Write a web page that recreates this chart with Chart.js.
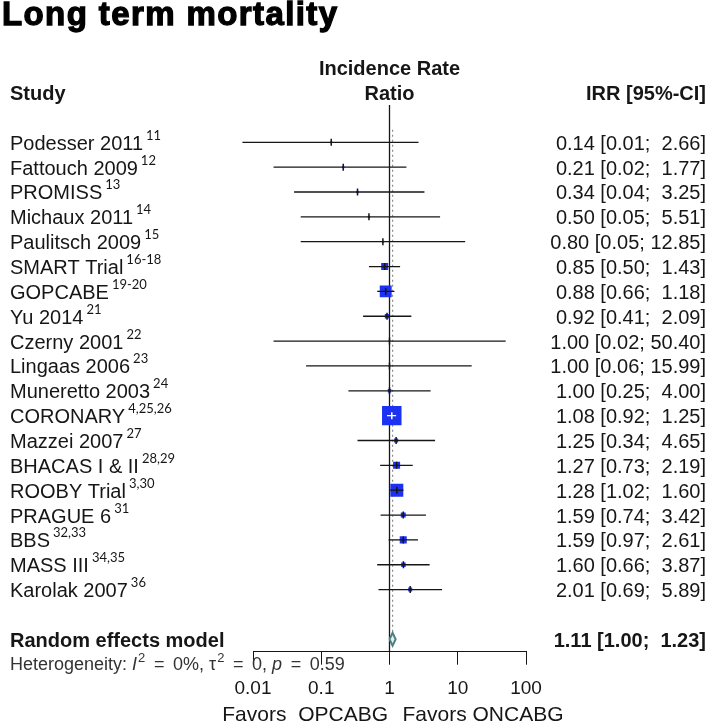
<!DOCTYPE html>
<html>
<head>
<meta charset="utf-8">
<script src="https://cdn.jsdelivr.net/npm/chart.js@4.4.1/dist/chart.umd.min.js"></script>
<style>
  html, body { margin: 0; padding: 0; background: #fff; }
  #chart-canvas { display: block; }
</style>
</head>
<body>
<canvas id="chart-canvas" width="709" height="722"></canvas>
<script>
// Study data, top to bottom as listed in the plot.
var studies = ['Podesser 2011', 'Fattouch 2009', 'PROMISS', 'Michaux 2011', 'Paulitsch 2009',
  'SMART Trial', 'GOPCABE', 'Yu 2014', 'Czerny 2001', 'Lingaas 2006', 'Muneretto 2003',
  'CORONARY', 'Mazzei 2007', 'BHACAS I & II', 'ROOBY Trial', 'PRAGUE 6', 'BBS', 'MASS III',
  'Karolak 2007'];
var refs = ['11', '12', '13', '14', '15', '16-18', '19-20', '21', '22', '23', '24',
  '4,25,26', '27', '28,29', '3,30', '31', '32,33', '34,35', '36'];
var irr = [0.14, 0.21, 0.34, 0.50, 0.80, 0.85, 0.88, 0.92, 1.00, 1.00, 1.00,
  1.08, 1.25, 1.27, 1.28, 1.59, 1.59, 1.60, 2.01];
// Podesser's lower bound prints as 0.01 but its line reaches past the axis start.
var lower = [0.007, 0.02, 0.04, 0.05, 0.05, 0.50, 0.66, 0.41, 0.02, 0.06, 0.25,
  0.92, 0.34, 0.73, 1.02, 0.74, 0.97, 0.66, 0.69];
var upper = [2.66, 1.77, 3.25, 5.51, 12.85, 1.43, 1.18, 2.09, 50.40, 15.99, 4.00,
  1.25, 4.65, 2.19, 1.60, 3.42, 2.61, 3.87, 5.89];
// Estimated study weights (%), read from the square sizes.
var weights = [0.4, 0.6, 0.6, 0.6, 0.4, 5.2, 15, 2.1, 0.25, 0.25, 1.3,
  40, 1.7, 5.2, 17.8, 2.6, 5.2, 2.1, 1.7];

// Random effects model: estimate, lower, upper.
var pooled = [1.11, 1.00, 1.23];
var heterogeneity = ['0%', '0', '0.59'];

var tickValues = [0.01, 0.1, 1, 10, 100];
var tickLabels = ['0.01', '0.1', '1', '10', '100'];
var leftLabel = 'Favors  OPCABG';
var rightLabel = 'Favors ONCABG';

var BLUE = '#1c32f2';
var INK = '#161616';
var FONT = '"Liberation Sans", Arial, sans-serif';

function boxSide(i) {
  return 3.08 * Math.sqrt(weights[i]);
}

// The CI line is drawn white when it fits inside its square.
function ciInsideBox(chart, i) {
  var xs = chart.scales.x;
  var c = xs.getPixelForValue(irr[i]);
  var half = boxSide(i) / 2;
  return xs.getPixelForValue(lower[i]) > c - half && xs.getPixelForValue(upper[i]) < c + half;
}

function ciText(est, lo, hi) {
  var h = hi.toFixed(2);
  return est.toFixed(2) + ' [' + lo.toFixed(2) + ';' + (h.length < 5 ? '  ' : ' ') + h + ']';
}

var datasets = [];

// Line of no effect.
datasets.push({
  type: 'line',
  data: [{x: 1, y: -1.5}, {x: 1, y: 20.5}],
  borderColor: INK, borderWidth: 1.3, pointRadius: 0, order: 10
});

// Dotted line at the pooled estimate.
datasets.push({
  type: 'line',
  data: [{x: pooled[0], y: -0.5}, {x: pooled[0], y: 19.7}],
  borderColor: '#8c8c8c', borderWidth: 1.2, borderDash: [2, 3], pointRadius: 0, order: 9
});

// Weighted squares.
datasets.push({
  type: 'scatter',
  data: irr.map(function (v, i) { return {x: v, y: i}; }),
  pointStyle: 'rect',
  pointRadius: irr.map(function (v, i) { return boxSide(i) / Math.SQRT2; }),
  pointBackgroundColor: BLUE, pointBorderColor: BLUE, pointBorderWidth: 0,
  order: 5
});

// Confidence intervals.
studies.forEach(function (name, i) {
  datasets.push({
    type: 'line',
    data: [{x: lower[i], y: i}, {x: upper[i], y: i}],
    borderColor: function (ctx) { return ciInsideBox(ctx.chart, i) ? '#ffffff' : INK; },
    borderWidth: 1.3, pointRadius: 0, order: 3, clip: false
  });
});

// Small vertical tick at each estimate.
datasets.push({
  type: 'scatter',
  data: irr.map(function (v, i) { return {x: v, y: i}; }),
  pointStyle: 'line', pointRotation: 90, pointRadius: 3.5, pointBorderWidth: 1.5,
  pointBorderColor: function (ctx) { return ciInsideBox(ctx.chart, ctx.dataIndex) ? '#ffffff' : INK; },
  order: 2
});

// Diamond for the random effects model.
datasets.push({
  type: 'line',
  data: [
    {x: pooled[1], y: 20}, {x: pooled[0], y: 19.74}, {x: pooled[2], y: 20},
    {x: pooled[0], y: 20.26}, {x: pooled[1], y: 20}
  ],
  borderColor: '#4f7f86', backgroundColor: '#e4eeee', borderWidth: 2,
  fill: 'shape', pointRadius: 0, tension: 0, order: 1
});

function drawSup(ctx, text, x, y) {
  ctx.font = '13px Lato, "Open Sans", sans-serif';
  ctx.fillText(text, x, y);
}

var textPlugin = {
  id: 'forestText',
  beforeDraw: function (chart) {
    var ctx = chart.ctx;
    ctx.save();
    ctx.fillStyle = '#ffffff';
    ctx.fillRect(0, 0, chart.width, chart.height);
    ctx.restore();
  },
  afterDraw: function (chart) {
    var ctx = chart.ctx;
    var xs = chart.scales.x;
    var ys = chart.scales.y;
    var nullX = xs.getPixelForValue(1);
    var rightEdge = 706;

    ctx.save();
    ctx.fillStyle = '#000';
    ctx.strokeStyle = '#000';
    ctx.textBaseline = 'alphabetic';

    // Title
    ctx.font = 'bold 33px ' + FONT;
    ctx.letterSpacing = '1.4px';
    ctx.lineWidth = 1.3;
    ctx.textAlign = 'left';
    ctx.fillText('Long term mortality', 2, 25);
    ctx.strokeText('Long term mortality', 2, 25);
    ctx.letterSpacing = '0px';

    // Column headers
    var headY = ys.getPixelForValue(-2) + 7.5;
    ctx.font = 'bold 20px ' + FONT;
    ctx.fillStyle = INK;
    ctx.textAlign = 'left';
    ctx.fillText('Study', 10, headY);
    ctx.textAlign = 'center';
    ctx.fillText('Incidence Rate', nullX, headY - 24.9);
    ctx.fillText('Ratio', nullX, headY);
    ctx.textAlign = 'right';
    ctx.fillText('IRR [95%-CI]', rightEdge, headY);

    // Study rows
    studies.forEach(function (name, i) {
      var y = ys.getPixelForValue(i) + 7.5;
      ctx.font = '20px ' + FONT;
      ctx.textAlign = 'left';
      ctx.fillText(name, 10, y);
      var w = ctx.measureText(name).width;
      drawSup(ctx, refs[i], 10 + w + 3, y - 10);
      ctx.font = '20px ' + FONT;
      ctx.textAlign = 'right';
      ctx.fillText(ciText(irr[i], lower[i], upper[i]), rightEdge, y);
    });

    // Pooled row
    var py = ys.getPixelForValue(20) + 7.5;
    ctx.font = 'bold 20px ' + FONT;
    ctx.textAlign = 'left';
    ctx.fillText('Random effects model', 10, py);
    ctx.textAlign = 'right';
    ctx.fillText(ciText(pooled[0], pooled[1], pooled[2]), rightEdge, py);

    // Heterogeneity line (plotmath style, wider spacing round "=")
    var hy = ys.getPixelForValue(21) + 6;
    var hx = 10;
    var eq = ' \u2009=\u2009 ';
    ctx.textAlign = 'left';
    ctx.fillStyle = '#333';
    var parts = [
      ['Heterogeneity: ', ''], ['I', 'italic '], ['2', 'sup'], [eq + heterogeneity[0] + ', ', ''],
      ['\u03c4', ''], ['2', 'sup'], [eq + heterogeneity[1] + ', ', ''], ['p', 'italic '],
      [eq + heterogeneity[2], '']
    ];
    parts.forEach(function (p) {
      if (p[1] === 'sup') {
        ctx.font = '13px ' + FONT;
        ctx.fillText(p[0], hx + 1, hy - 8);
        hx += ctx.measureText(p[0]).width + 1;
      } else {
        ctx.font = p[1] + '18px ' + FONT;
        ctx.fillText(p[0], hx, hy);
        hx += ctx.measureText(p[0]).width;
      }
    });

    // Direction labels under the axis
    ctx.fillStyle = INK;
    ctx.font = '21px ' + FONT;
    ctx.textAlign = 'right';
    ctx.fillText(leftLabel, nullX - 1.5, 721);
    ctx.textAlign = 'left';
    ctx.fillText(rightLabel, nullX + 13, 721);

    ctx.restore();
  }
};

new Chart(document.getElementById('chart-canvas').getContext('2d'), {
  type: 'scatter',
  data: {datasets: datasets},
  plugins: [textPlugin],
  options: {
    responsive: false,
    animation: false,
    devicePixelRatio: 1,
    events: [],
    layout: {padding: {left: 253, right: 183, top: 105, bottom: 0}},
    plugins: {legend: {display: false}, tooltip: {enabled: false}, title: {display: false}},
    scales: {
      x: {
        type: 'logarithmic',
        position: 'bottom',
        min: 0.01,
        max: 100,
        afterBuildTicks: function (scale) {
          scale.ticks = tickValues.map(function (v) { return {value: v}; });
        },
        afterFit: function (scale) {
          scale.height = 70.3;
        },
        ticks: {
          autoSkip: false,
          maxRotation: 0,
          padding: 13,
          color: INK,
          font: {family: FONT, size: 19},
          callback: function (value, index) { return tickLabels[index]; }
        },
        grid: {drawOnChartArea: false, drawTicks: true, tickLength: 13, color: INK, tickWidth: 1},
        border: {display: true, color: INK, width: 1}
      },
      y: {
        type: 'linear',
        min: -1.5,
        max: 20.5,
        reverse: true,
        display: false
      }
    }
  }
});
</script>
</body>
</html>
